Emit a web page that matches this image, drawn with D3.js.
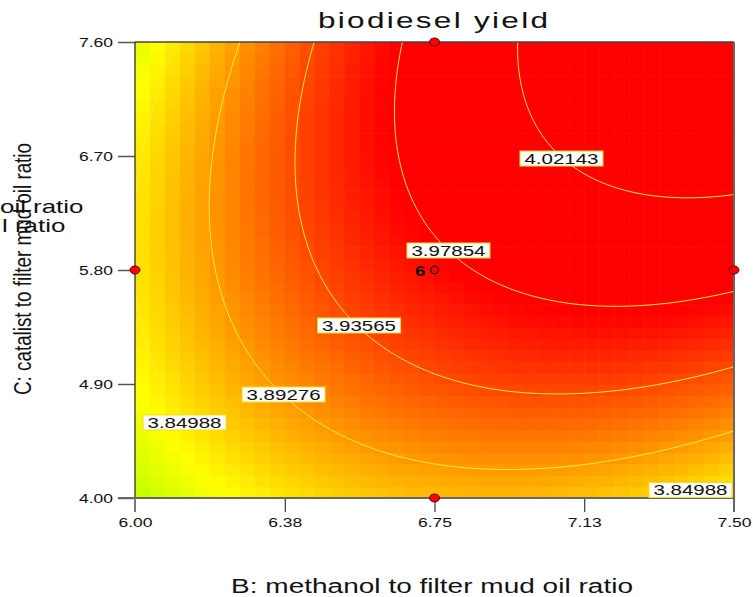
<!DOCTYPE html>
<html>
<head>
<meta charset="utf-8">
<script src="https://cdn.jsdelivr.net/npm/d3@7"></script>
<style>
  body { margin: 0; background: #fff; }
  svg { display: block; }
</style>
</head>
<body>
<svg id="chart" width="753" height="597"></svg>
<script>
// ---- factor ranges and ticks (actual units) ----
const methanolRange = [6.00, 7.50];   // B: methanol to filter mud oil ratio
const catalystRange = [4.00, 7.60];   // C: catalist to filter mud oil ratio
const xTickValues = [6.00, 6.375, 6.75, 7.125, 7.50];
const xTickLabels = ["6.00", "6.38", "6.75", "7.13", "7.50"];
const yTickValues = [4.00, 4.90, 5.80, 6.70, 7.60];
const yTickLabels = ["4.00", "4.90", "5.80", "6.70", "7.60"];

// ---- quadratic response model in coded units (b, c in [-1, 1]) ----
const termNames = ["intercept", "B", "C", "BC", "B^2", "C^2"];
const coefficients = [3.97045, 0.0692, 0.05925, 0.0508, -0.0505, -0.0377];

// ---- contour levels ----
const contourLevels = [3.84988, 3.89276, 3.93565, 3.97854, 4.02143];

// ---- design points (actual units) ----
const designB = [6.00, 7.50, 6.75, 6.75, 6.75];
const designC = [5.80, 5.80, 7.60, 4.00, 5.80];
const centerReplicates = 6;

// ---- contour label anchors (actual units) ----
const labelB = [7.068, 6.785, 6.561, 6.372, 6.124, 7.391];
const labelC = [6.680, 5.954, 5.362, 4.817, 4.596, 4.063];
const labelText = ["4.02143", "3.97854", "3.93565", "3.89276", "3.84988", "3.84988"];

// ---- colour ramp: response -> hue (green-yellow through orange to red) ----
const colorStops = [3.805, 3.975];
const hueStops = [75, 0];

// ---------------------------------------------------------------
const plot = { left: 135, right: 734, top: 42, bottom: 498 };
const FONT = "'Liberation Sans', Arial, sans-serif";
const STRETCH = 1.4;

const svg = d3.select("#chart");

const x = d3.scaleLinear().domain(methanolRange).range([plot.left, plot.right]);
const y = d3.scaleLinear().domain(catalystRange).range([plot.bottom, plot.top]);

const bMid = (methanolRange[0] + methanolRange[1]) / 2, bHalf = (methanolRange[1] - methanolRange[0]) / 2;
const cMid = (catalystRange[0] + catalystRange[1]) / 2, cHalf = (catalystRange[1] - catalystRange[0]) / 2;
const toB = b => bMid + b * bHalf;
const toC = c => cMid + c * cHalf;

function model(b, c) {
  const k = coefficients;
  return k[0] + k[1] * b + k[2] * c + k[3] * b * c + k[4] * b * b + k[5] * c * c;
}

const hue = d3.scaleLinear().domain(colorStops).range(hueStops).clamp(true);
const colorOf = v => d3.hsl(hue(v), 1, 0.5).formatHex();

// clip region for the plot area
svg.append("defs").append("clipPath").attr("id", "plotClip")
  .append("rect")
  .attr("x", plot.left).attr("y", plot.top)
  .attr("width", plot.right - plot.left).attr("height", plot.bottom - plot.top);

// ---- coloured cell grid ----
const nCells = 40;
const cells = [];
for (let j = 0; j < nCells; j++) {
  for (let i = 0; i < nCells; i++) {
    const b0 = -1 + i * 2 / nCells, b1 = -1 + (i + 1) * 2 / nCells;
    const c0 = -1 + j * 2 / nCells, c1 = -1 + (j + 1) * 2 / nCells;
    cells.push({ b0, b1, c0, c1, v: model((b0 + b1) / 2, (c0 + c1) / 2) });
  }
}
svg.append("g").attr("clip-path", "url(#plotClip)")
  .selectAll("rect").data(cells).join("rect")
  .attr("x", d => x(toB(d.b0)))
  .attr("y", d => y(toC(d.c1)))
  .attr("width", d => x(toB(d.b1)) - x(toB(d.b0)) + 0.6)
  .attr("height", d => y(toC(d.c0)) - y(toC(d.c1)) + 0.6)
  .attr("fill", d => colorOf(d.v));

// ---- contour lines ----
const N = 221, lo = -1.1, step = 2.2 / (N - 1);
const grid = new Array(N * N);
for (let j = 0; j < N; j++) {
  for (let i = 0; i < N; i++) {
    grid[j * N + i] = model(lo + i * step, lo + j * step);
  }
}
const contours = d3.contours().size([N, N]).thresholds(contourLevels)(grid);
const proj = d3.geoTransform({
  point: function (u, v) {
    this.stream.point(x(toB(lo + (u - 0.5) * step)), y(toC(lo + (v - 0.5) * step)));
  }
});
svg.append("g").attr("clip-path", "url(#plotClip)")
  .selectAll("path").data(contours).join("path")
  .attr("d", d3.geoPath(proj))
  .attr("fill", "none")
  .attr("stroke", "#ffee30")
  .attr("stroke-width", 1);

// ---- axes ----
const xAxis = svg.append("g")
  .attr("transform", `translate(0,${plot.bottom})`)
  .call(d3.axisBottom(x).tickValues(xTickValues)
    .tickFormat((d, i) => xTickLabels[i])
    .tickSize(14).tickPadding(6).tickSizeOuter(0));
xAxis.select(".domain").remove();
xAxis.selectAll("line").attr("stroke", "#111").attr("stroke-width", 1);
xAxis.selectAll("text")
  .attr("font-family", FONT).attr("font-size", 12.5).attr("fill", "#111")
  .attr("textLength", 34).attr("lengthAdjust", "spacingAndGlyphs");

const yAxis = svg.append("g")
  .attr("transform", `translate(${plot.left},0)`)
  .call(d3.axisLeft(y).tickValues(yTickValues)
    .tickFormat((d, i) => yTickLabels[i])
    .tickSize(17).tickPadding(5).tickSizeOuter(0));
yAxis.select(".domain").remove();
yAxis.selectAll("line").attr("stroke", "#555").attr("stroke-width", 1.5);
yAxis.selectAll("text")
  .attr("font-family", FONT).attr("font-size", 12.5).attr("fill", "#111")
  .attr("textLength", 34).attr("lengthAdjust", "spacingAndGlyphs");

// ---- frame ----
const frame = svg.append("g").attr("fill", "none");
frame.append("line").attr("x1", plot.left).attr("x2", plot.right)
  .attr("y1", plot.top).attr("y2", plot.top).attr("stroke", "#444").attr("stroke-width", 1.5);
frame.append("line").attr("x1", plot.left).attr("x2", plot.left)
  .attr("y1", plot.top).attr("y2", plot.bottom).attr("stroke", "#222").attr("stroke-width", 1.2);
frame.append("line").attr("x1", plot.left - 17).attr("x2", plot.right)
  .attr("y1", plot.bottom).attr("y2", plot.bottom).attr("stroke", "#666").attr("stroke-width", 2);
frame.append("line").attr("x1", plot.right).attr("x2", plot.right)
  .attr("y1", plot.top).attr("y2", plot.bottom + 14).attr("stroke", "#666").attr("stroke-width", 2);
frame.append("line").attr("x1", plot.left).attr("x2", plot.left)
  .attr("y1", plot.bottom).attr("y2", plot.bottom + 14).attr("stroke", "#777").attr("stroke-width", 2);

// ---- contour labels ----
const labels = svg.append("g");
labelText.forEach((t, i) => {
  const cx = x(labelB[i]), cy = y(labelC[i]);
  const w = 83, h = 15;
  labels.append("rect")
    .attr("x", cx - w / 2).attr("y", cy - h / 2)
    .attr("width", w).attr("height", h)
    .attr("fill", "#fff").attr("stroke", "#f0dc20").attr("stroke-width", 1);
  labels.append("text")
    .attr("x", cx).attr("y", cy + 5.2)
    .attr("text-anchor", "middle")
    .attr("font-family", FONT).attr("font-size", 14.5).attr("fill", "#111")
    .attr("textLength", 74).attr("lengthAdjust", "spacingAndGlyphs")
    .text(t);
});

// ---- design points ----
const pts = svg.append("g");
designB.forEach((b, i) => {
  const isCenter = b === bMid && designC[i] === cMid;
  if (isCenter) {
    pts.append("circle")
      .attr("cx", x(b)).attr("cy", y(designC[i])).attr("r", 3.8)
      .attr("fill", "#ff0000").attr("stroke", "#111").attr("stroke-width", 1.2);
    pts.append("text")
      .attr("transform", `translate(${x(b) - 9},${y(designC[i]) + 5.5}) scale(1.25,1)`)
      .attr("text-anchor", "end")
      .attr("font-family", FONT).attr("font-size", 15).attr("font-weight", "bold")
      .attr("fill", "#111")
      .text(centerReplicates);
  } else {
    pts.append("ellipse")
      .attr("cx", x(b)).attr("cy", y(designC[i])).attr("rx", 5).attr("ry", 4)
      .attr("fill", "#ff0000").attr("stroke", "#5a0000").attr("stroke-width", 1);
  }
});

// ---- titles ----
function stretched(px, py, str, size, anchor, spacingLen) {
  const t = svg.append("text")
    .attr("transform", `translate(${px},${py}) scale(${STRETCH},1)`)
    .attr("text-anchor", anchor)
    .attr("font-family", FONT).attr("font-size", size).attr("fill", "#111")
    .text(str);
  if (spacingLen) t.attr("textLength", spacingLen / STRETCH).attr("lengthAdjust", "spacing");
  return t;
}

stretched(433, 28, "biodiesel yield", 22.5, "middle", 230);
stretched(432, 593, "B: methanol to filter mud oil ratio", 20, "middle", 402);

// horizontal axis-title fragments at the left edge
stretched(0, 213, "oil ratio", 18.5, "start");
stretched(2, 232, "l ratio", 18.5, "start");

// vertical axis title
svg.append("text")
  .attr("transform", "translate(31,269) rotate(-90) scale(1,1.28)")
  .attr("text-anchor", "middle")
  .attr("font-family", FONT).attr("font-size", 18.8).attr("fill", "#111")
  .attr("textLength", 252).attr("lengthAdjust", "spacingAndGlyphs")
  .text("C: catalist to filter mud oil ratio");
</script>
</body>
</html>
